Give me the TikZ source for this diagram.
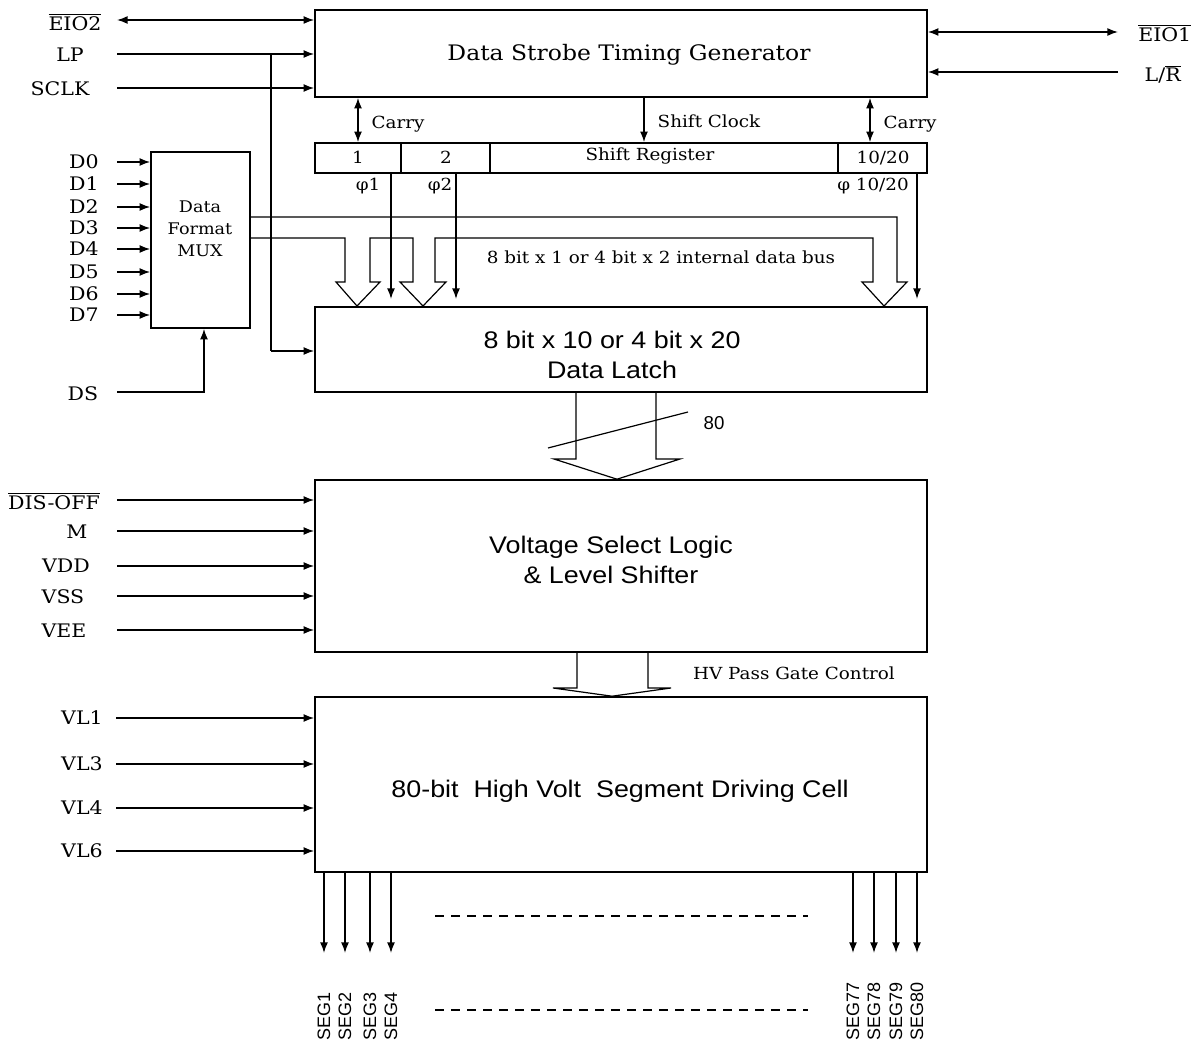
\documentclass[tikz,border=0pt]{standalone}
\usepackage{fontspec}
\setmainfont[FakeStretch=1.1]{DejaVu Serif}
\newfontfamily\sansf[FakeStretch=1.12]{Liberation Sans}
\newfontfamily\segf{Liberation Sans}
\usetikzlibrary{arrows.meta,fit}
\begin{document}
\begin{tikzpicture}[x=0.75pt,y=-0.75pt,line width=1.1pt,
  box/.style={draw,inner sep=0pt,line width=1.2pt},
  arr/.style={-{Latex[length=8pt,width=6pt]}},
  darr/.style={{Latex[length=8pt,width=6pt]}-{Latex[length=8pt,width=6pt]}},
  pin/.style={font=\fontsize{14}{16}\selectfont,inner sep=0pt},
  small/.style={font=\fontsize{12.5}{14}\selectfont,inner sep=0pt},
  title/.style={font=\fontsize{16}{18}\selectfont,inner sep=0pt},
  stitle/.style={font=\sansf\fontsize{18}{23}\selectfont,align=center,inner sep=0pt},
  segl/.style={font=\segf\fontsize{13.5}{15}\selectfont,inner sep=0pt,rotate=90,anchor=west},
  bus/.style={line width=0.9pt}]
\useasboundingbox (0,0) rectangle (1196,1048);

% ---------- boxes ----------
\node[box,fit={(315,10)(927,97)}] (tg) {};
\node[title] (tgt) at (629,55) {Data Strobe Timing Generator};

\node[box,fit={(315,143)(401,173)}] (c1) {};
\node[box,fit={(401,143)(490,173)}] (c2) {};
\node[box,fit={(490,143)(838,173)}] (csr) {};
\node[box,fit={(838,143)(927,173)}] (c20) {};
\node[small] (c1t) at (358,157) {1};
\node[small] (c2t) at (446,157) {2};
\node[small] (csrt) at (650,156) {Shift Register};
\node[small] (c20t) at (883,158) {10/20};

\node[box,fit={(151,152)(250,328)}] (mux) {};
\node[small,align=center,font=\fontsize{12}{16.5}\selectfont] (muxt) at (200,229) {Data\\Format\\MUX};

\node[box,fit={(315,307)(927,392)}] (dl) {};
\node[stitle] (dlt) at (612,355) {8 bit x 10 or 4 bit x 20\\Data Latch};

\node[box,fit={(315,480)(927,652)}] (vs) {};
\node[stitle] (vst) at (611,560) {Voltage Select Logic\\\& Level Shifter};

\node[box,fit={(315,697)(927,872)}] (dc) {};
\node[stitle] (dct) at (620,791) {80-bit\ \ High Volt\ \ Segment Driving Cell};

% ---------- top left pins ----------
\node[pin] (eio2) at (75,22) {$\overline{\mbox{EIO2}}$};
\node[pin] (lp) at (70,55) {LP};
\node[pin] (sclk) at (60,89) {SCLK};
\coordinate (eio2s) at (117,20);
\coordinate (lps) at (117,54);
\coordinate (sclks) at (117,88);
\draw[darr] (eio2s) -- (eio2s -| tg.west);
\draw[arr] (lps) -- (lps -| tg.west);
\draw[arr] (sclks) -- (sclks -| tg.west);
\coordinate (lpb) at (271,54);
\coordinate (lpl) at (271,351);
\draw (lpb) -- (lpl);
\draw[arr] (lpl) -- (lpl -| dl.west);

% ---------- top right pins ----------
\node[pin,anchor=east] (eio1) at (1192,33) {$\overline{\mbox{EIO1}}$};
\node[pin,anchor=west] (lr) at (1144,74) {L/$\overline{\mbox{R}}$};
\coordinate (eio1s) at (1118,32);
\coordinate (lrs) at (1118,72);
\draw[darr] (eio1s -| tg.east) -- (eio1s);
\draw[arr] (lrs) -- (lrs -| tg.east);

% ---------- carry / shift clock ----------
\draw[darr] (tg.south -| c1.center) -- (c1.north);
\draw[darr] (tg.south -| 870,0) -- (c20.north -| 870,0);
\draw[arr] (tg.south -| 644,0) -- (csr.north -| 644,0);
\node[small] (cl) at (398,124) {Carry};
\node[small] (cr) at (910,124) {Carry};
\node[small] (scl) at (709,121) {Shift Clock};

% ---------- phase outputs ----------
\node[small] (p1) at (368,186) {φ1};
\node[small] (p2) at (440,186) {φ2};
\node[small] (p20) at (873,186) {φ 10/20};
\draw[arr] (c1.south -| 391,0) -- (391,299);
\draw[arr] (c2.south -| 456,0) -- (456,299);
\draw[arr] (c20.south -| 917,0) -- (917,299);

% ---------- data inputs ----------
\foreach \i/\y in {0/162,1/184,2/207,3/228,4/249,5/272,6/294,7/315}{
  \node[pin] (d\i) at (84,\y) {D\i};
  \coordinate (ds\i) at (117,\y);
  \draw[arr] (ds\i) -- (ds\i -| mux.west);
}
\node[pin] (ds) at (83,394) {DS};
\coordinate (dss) at (117,392);
\draw[arr] (dss) -| (mux.south -| 204,0);

% ---------- internal data bus ----------
\draw[bus] (mux.east |- 0,217) -- (897,217) -- (897,282) -- (907,282) -- (884,306)
  -- (862,282) -- (873,282) -- (873,238) -- (435,238) -- (435,282) -- (446,282)
  -- (423,306) -- (400,282) -- (413,282) -- (413,238) -- (370,238) -- (370,282)
  -- (380,282) -- (357,306) -- (336,282) -- (345,282) -- (345,238) -- (mux.east |- 0,238);
\node[small] (busl) at (661,257) {8 bit x 1 or 4 bit x 2 internal data bus};

% ---------- 80 bus ----------
\draw[bus] (dl.south -| 576,0) -- (576,459) -- (554,459) -- (vs.north -| 617,0)
  -- (680,459) -- (656,459) -- (dl.south -| 656,0);
\draw[bus] (548,448) -- (688,412);
\node[font=\segf\fontsize{14}{16}\selectfont] (n80) at (714,423) {80};

% ---------- HV pass gate ----------
\draw[bus] (vs.south -| 577,0) -- (577,688) -- (553,688) -- (dc.north -| 612,0)
  -- (671,688) -- (648,688) -- (vs.south -| 648,0);
\node[small] (hvl) at (794,673) {HV Pass Gate Control};

% ---------- voltage pins ----------
\node[pin] (dis) at (54,501) {$\overline{\mbox{DIS-OFF}}$};
\node[pin] (m) at (77,532) {M};
\node[pin] (vdd) at (66,566) {VDD};
\node[pin] (vss) at (63,597) {VSS};
\node[pin] (vee) at (64,631) {VEE};
\foreach \n/\y in {dis/500,m/531,vdd/566,vss/596,vee/630}{
  \coordinate (\n s) at (117,\y);
  \draw[arr] (\n s) -- (\n s -| vs.west);
}
\foreach \n/\y in {1/718,3/764,4/808,6/851}{
  \node[pin] (vl\n) at (82,\y) {VL\n};
  \coordinate (vl\n s) at (116,\y);
  \draw[arr] (vl\n s) -- (vl\n s -| dc.west);
}

% ---------- segment outputs ----------
\foreach \x/\n in {324/1,345/2,370/3,391/4,853/77,874/78,896/79,917/80}{
  \draw[arr] (dc.south -| \x,0) -- (\x,953);
  \node[segl] (seg\n) at (\x,1041) {SEG\n};
}
\draw[line width=1pt,dash pattern=on 7pt off 5pt] (435,916) -- (808,916);
\draw[line width=1pt,dash pattern=on 7pt off 5pt] (435,1010) -- (808,1010);
\end{tikzpicture}
\end{document}
